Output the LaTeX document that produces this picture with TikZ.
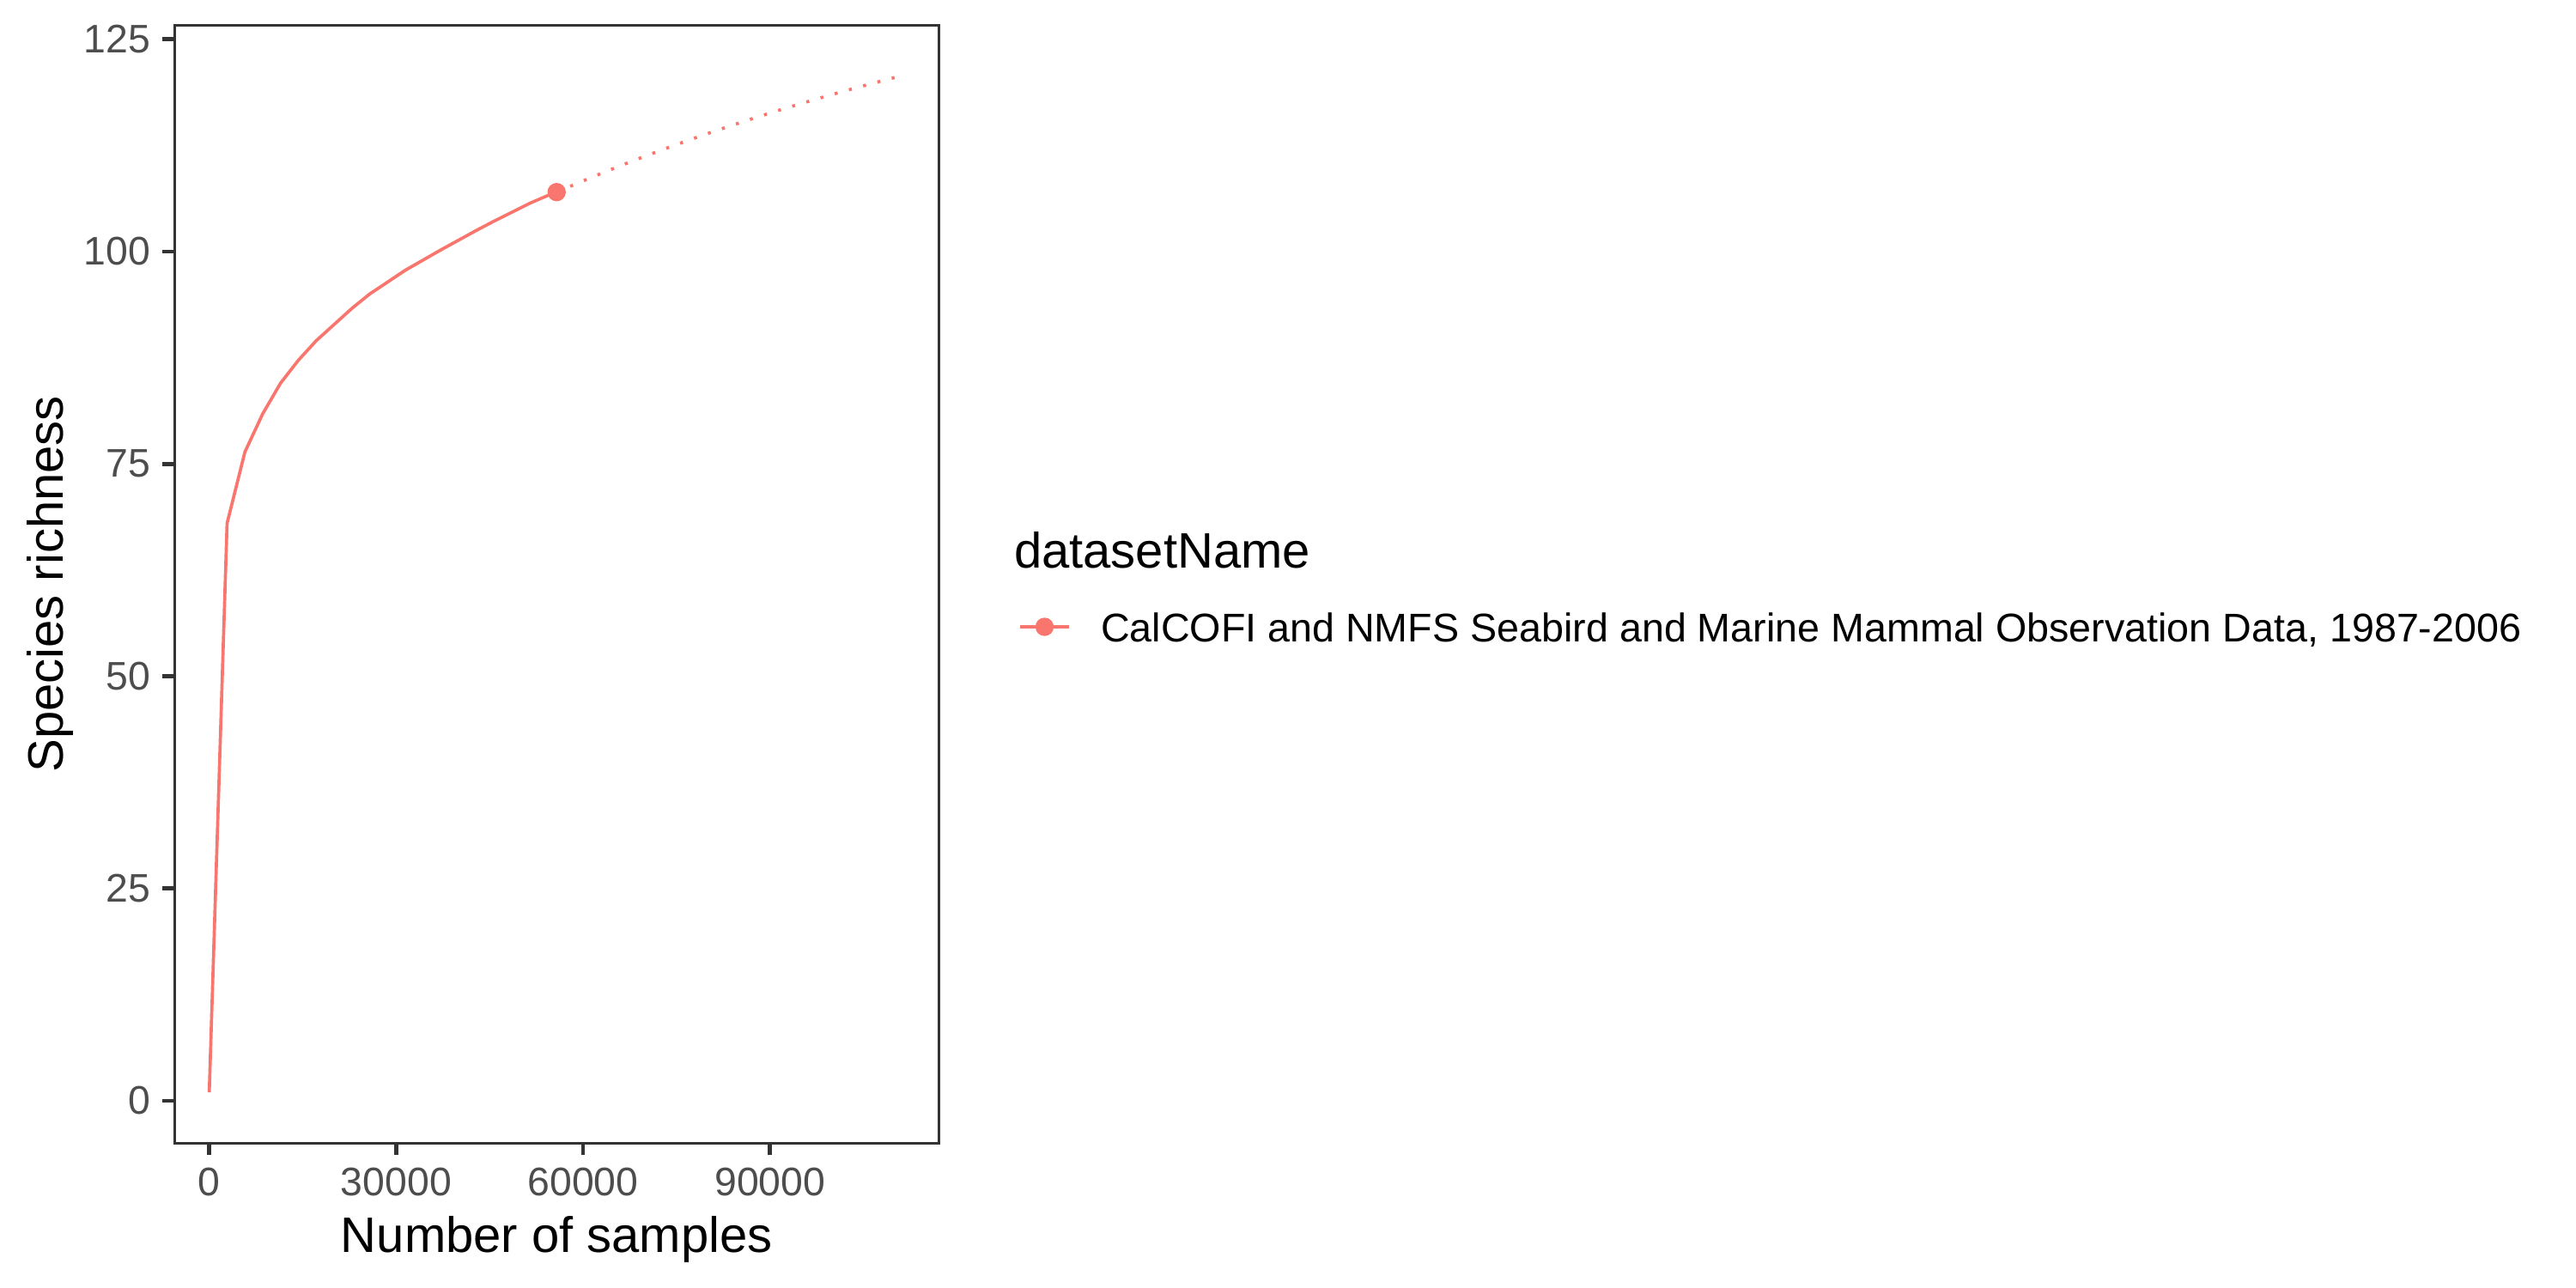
\documentclass[tikz,border=0pt]{standalone}
\usepackage{fontspec}
\setmainfont{Liberation Sans}
\usepackage{tikz}
\definecolor{c_curve}{HTML}{F8766D}
\definecolor{c_axis}{HTML}{333333}
\definecolor{c_ticktext}{HTML}{4D4D4D}
\tikzset{panel-frame/.style={draw=c_axis, line width=0.51pt},
tick-mark/.style={draw=c_axis, line width=0.9pt},
tick-label/.style={text=c_ticktext, font=\fontsize{8.8}{10.5}\selectfont, inner sep=0pt},
axis-title/.style={font=\fontsize{11}{13}\selectfont, inner sep=0pt},
curve-obs/.style={draw=c_curve, line width=0.7pt, line join=round},
curve-extra/.style={draw=c_curve, line width=0.7pt, dash pattern=on 0.66pt off 2.6pt},
ref-point/.style={circle, fill=c_curve, inner sep=0pt, minimum size=4.06pt}}

\begin{document}
\begin{tikzpicture}
\useasboundingbox (0,0) rectangle (20,10);
% plot panel, in data units (x in thousands of samples)
\begin{scope}[shift={(1.6247,1.4533)}, x=0.048373cm, y=0.065933cm]
\draw[panel-frame] (-5.58,-4.98) rectangle (117.1,126.66);
\foreach \v in {0,25,...,125} {
  \draw[tick-mark] (-5.58,\v) -- ++(-0.093cm,0);
  \node[tick-label, anchor=east] (ylab\v) at ([xshift=-0.18cm]-5.58,\v) {\v};
}
\foreach \v/\t in {0/0,30/30000,60/60000,90/90000} {
  \draw[tick-mark] (\v,-4.98) -- ++(0,-0.093cm);
  \node[tick-label, anchor=base] (xlab\v) at (\v,-11.15) {\t};
}
% extrapolated part
\draw[curve-extra] plot[domain=55.76:111.0, samples=21] (\x,{107+33.2*(1-exp(-(\x-55.76)/104))});
% rarefied part
\draw[curve-obs] plot coordinates {(0,1) (2.86,68.0) (5.72,76.4) (8.58,80.9) (11.44,84.5)
  (14.30,87.2) (17.16,89.5) (20.02,91.4) (22.88,93.3) (25.74,95.0) (28.60,96.4)
  (31.46,97.8) (34.32,99.0) (37.18,100.2) (40.04,101.35) (42.90,102.5) (45.76,103.6)
  (48.62,104.65) (51.48,105.7) (54.34,106.6) (55.76,107.0)};
\node[ref-point] (refpt) at (55.76,107.0) {};
\node[axis-title, anchor=base] (xtitle) at (55.76,-17.83) {Number of samples};
\node[axis-title, anchor=base, rotate=90] (ytitle) at (-23.48,60.84) {Species richness};
\end{scope}
% legend
\node[axis-title, anchor=base west] (lgdtitle) at (7.867,5.587) {datasetName};
\coordinate (keyL) at (7.922,5.133);
\coordinate (keyR) at (8.3,5.133);
\draw[curve-obs] (keyL) -- (keyR);
\node[ref-point] (keypt) at (8.11,5.133) {};
\node[tick-label, text=black, font=\fontsize{8.85}{10.5}\selectfont, anchor=base west] (lgdlabel) at (8.54,5.018) {CalCOFI and NMFS Seabird and Marine Mammal Observation Data, 1987-2006};
\end{tikzpicture}
\end{document}
